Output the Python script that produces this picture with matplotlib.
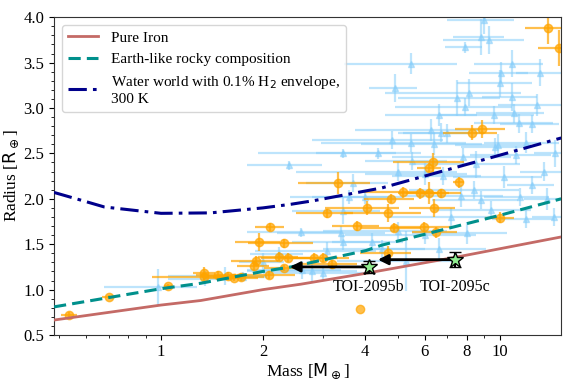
import numpy as np
import matplotlib
matplotlib.use("Agg")
import matplotlib.pyplot as plt
from matplotlib.ticker import FixedLocator, NullFormatter, MultipleLocator

plt.rcParams['font.family'] = ['Liberation Serif', 'DejaVu Serif']

# composition curves (mass [Mearth], radius [Rearth])
iron_m = [0.483, 1.0, 1.31, 2.0, 2.59, 4.03, 7.5, 15.2]
iron_r = [0.665, 0.83, 0.88, 1.0, 1.06, 1.18, 1.36, 1.58]

earth_m = [0.483, 1.0, 1.31, 2.0, 2.42, 4.03, 4.49, 10.05, 15.2]
earth_r = [0.81, 1.01, 1.07, 1.20, 1.25, 1.43, 1.49, 1.82, 2.0]

water_m = [0.483, 0.58, 0.68, 1.0, 1.40, 2.0, 2.42, 2.83, 4.49, 8.2, 15.2]
water_r = [2.07, 1.985, 1.91, 1.84, 1.845, 1.90, 1.94, 1.98, 2.12, 2.39, 2.67]

# known planets (light blue)
blue_m = [9.0, 8.8, 9.3, 7.9, 5.46, 4.9, 10.9, 13.2, 10.1, 10.0, 8.1, 7.5, 7.9, 10.9,
          12.9, 6.6, 9.6, 11.0, 11.4, 12.5, 6.25, 7.0, 6.7, 5.46, 9.9, 9.7, 14.6, 7.8,
          3.44, 4.36, 2.39, 3.68, 3.44, 3.6, 4.0, 10.3, 8.4, 8.8, 9.4, 11.5, 12.5, 7.7,
          6.0, 5.0, 6.8, 13.8, 14.5, 12.0, 7.2, 8.0, 6.0, 5.0, 3.4, 2.59, 3.44, 4.2,
          4.5, 5.3, 6.6, 3.1, 2.23, 2.0, 2.6, 2.8, 3.0, 0.98, 1.55, 1.35, 1.75, 4.8,
          5.5, 6.4, 8.5, 11.2, 12.0, 13.5]
blue_r = [3.97, 3.78, 3.75, 3.67, 3.49, 3.22, 3.49, 3.39, 3.39, 3.27, 3.17, 3.11, 3.01, 3.12,
          3.03, 2.92, 2.92, 2.94, 2.83, 2.82, 2.76, 2.72, 2.73, 2.61, 2.59, 2.57, 2.50, 2.46,
          2.50, 2.50, 2.37, 2.17, 1.87, 2.02, 2.02, 2.24, 2.10, 1.99, 1.88, 2.02, 2.15, 2.03,
          2.27, 2.30, 2.25, 2.00, 1.80, 1.78, 1.80, 1.62, 1.60, 1.65, 1.62, 1.63, 1.52, 1.52,
          1.45, 1.32, 1.45, 1.42, 1.39, 1.30, 1.22, 1.20, 1.18, 1.03, 1.15, 1.12, 1.14, 2.65,
          2.42, 2.60, 2.38, 2.48, 2.62, 2.30]
blue_dm = [2.0, 1.5, 2.5, 1.0, 2.0, 0.8, 2.5, 2.0, 2.0, 2.5, 3.5, 2.5, 3.0, 2.0,
           3.0, 2.0, 3.0, 2.5, 3.0, 2.5, 2.5, 2.0, 1.5, 2.5, 2.5, 2.0, 2.0, 3.0,
           1.5, 1.5, 0.6, 1.0, 1.0, 1.2, 1.2, 3.0, 3.0, 2.5, 3.0, 2.5, 2.0, 2.5,
           2.0, 2.5, 2.0, 2.0, 2.0, 2.5, 2.5, 2.5, 2.5, 2.0, 1.2, 0.8, 1.0, 1.0,
           1.5, 2.0, 2.5, 1.2, 0.4, 0.3, 0.8, 1.0, 1.0, 0.3, 0.5, 0.3, 0.3, 2.0,
           1.5, 2.5, 3.0, 3.0, 3.0, 2.0]
blue_dr = [0.15, 0.2, 0.15, 0.06, 0.12, 0.15, 0.15, 0.15, 0.12, 0.15, 0.15, 0.2, 0.1, 0.15,
           0.12, 0.12, 0.1, 0.1, 0.1, 0.1, 0.12, 0.1, 0.1, 0.1, 0.12, 0.1, 0.15, 0.1,
           0.05, 0.06, 0.05, 0.1, 0.15, 0.08, 0.08, 0.12, 0.1, 0.1, 0.1, 0.1, 0.1, 0.12,
           0.12, 0.1, 0.1, 0.12, 0.1, 0.1, 0.1, 0.12, 0.1, 0.1, 0.08, 0.05, 0.08, 0.1,
           0.1, 0.33, 0.12, 0.1, 0.08, 0.1, 0.1, 0.1, 0.08, 0.2, 0.1, 0.08, 0.05, 0.1,
           0.1, 0.12, 0.15, 0.1, 0.12, 0.1]

# M-dwarf planets (orange)
orange_m = [13.9, 15.0, 8.3, 8.9, 6.35, 6.2, 7.56, 3.33, 5.17, 5.8, 6.2, 6.7, 4.77, 3.1,
            4.05, 4.67, 6.4, 10.05, 3.8, 4.87, 5.97, 6.5, 2.1, 1.95, 2.31, 4.67, 3.0, 2.83,
            2.37, 2.23, 1.91, 1.88, 2.31, 3.2, 2.08, 1.72, 1.64, 1.58, 1.47, 1.34, 1.34,
            1.05, 0.70, 0.535, 3.86]
orange_r = [3.88, 3.66, 2.73, 2.77, 2.40, 2.34, 2.18, 2.17, 2.07, 2.06, 2.06, 2.06, 2.00, 1.84,
            1.90, 1.84, 1.90, 1.79, 1.70, 1.68, 1.69, 1.63, 1.69, 1.52, 1.51, 1.40, 1.35, 1.35,
            1.35, 1.36, 1.32, 1.26, 1.24, 1.28, 1.16, 1.14, 1.13, 1.15, 1.16, 1.14, 1.18,
            1.04, 0.92, 0.72, 0.79]
orange_dm = [2.0, 2.0, 1.5, 1.5, 1.5, 0.5, 0.3, 0.8, 1.2, 0.8, 0.9, 1.0, 0.8, 0.6,
             1.0, 1.2, 1.0, 1.0, 0.6, 1.0, 1.2, 1.0, 0.2, 0.3, 0.5, 0.8, 0.6, 0.5,
             0.4, 0.3, 0.3, 0.2, 0.3, 0.6, 0.4, 0.3, 0.3, 0.2, 0.2, 0.4, 0.1,
             0.03, 0.03, 0.03, 0.0]
orange_dr = [0.17, 0.2, 0.08, 0.1, 0.1, 0.05, 0.06, 0.12, 0.06, 0.06, 0.12, 0.05, 0.05, 0.05,
             0.08, 0.1, 0.1, 0.06, 0.06, 0.05, 0.06, 0.06, 0.04, 0.1, 0.05, 0.08, 0.05, 0.05,
             0.05, 0.05, 0.05, 0.05, 0.03, 0.05, 0.04, 0.04, 0.04, 0.04, 0.04, 0.04, 0.07,
             0.02, 0.02, 0.03, 0.0]

# TOI-2095 planets (mass upper limits)
toi_names = ['TOI-2095b', 'TOI-2095c']
toi_m = [4.1, 7.4]
toi_r = [1.25, 1.33]
toi_dr = [0.07, 0.08]
toi_arrow_to = [2.4, 4.37]

fig = plt.figure(figsize=(5.75, 3.82), dpi=100)
ax = fig.add_axes([0.094, 0.123, 0.882, 0.832])

ax.errorbar(blue_m, blue_r, xerr=blue_dm, yerr=blue_dr, fmt='^', color='lightskyblue',
            ms=5, elinewidth=1.6, alpha=0.55, zorder=1)
ax.errorbar(orange_m, orange_r, xerr=orange_dm, yerr=orange_dr, fmt='o', color='orange',
            ms=6, elinewidth=1.6, alpha=0.7, zorder=2)

ax.plot(iron_m, iron_r, color='#c46a66', lw=2, label='Pure Iron', zorder=3)
ax.plot(earth_m, earth_r, color='#00908c', lw=2.2, ls=(0, (4, 2)),
        label='Earth-like rocky composition', zorder=3)
ax.plot(water_m, water_r, color='darkblue', lw=2.2, ls=(0, (6, 2, 1.2, 2)),
        label='Water world with 0.1% H$_2$ envelope,\n300 K', zorder=3)

for i in range(2):
    ax.annotate('', xy=(toi_arrow_to[i], toi_r[i]), xytext=(toi_m[i], toi_r[i]),
                arrowprops=dict(arrowstyle='-|>', color='k', lw=2, mutation_scale=15,
                                shrinkA=0, shrinkB=0), zorder=4)
    ax.errorbar(toi_m[i], toi_r[i], yerr=toi_dr[i], fmt='*', ms=12, mfc='lightgreen',
                mec='k', ecolor='k', capsize=4, elinewidth=1.5, zorder=5)
    ax.text(toi_m[i], 1.03, toi_names[i], ha='center', va='center', fontsize=11.5)

ax.set_xscale('log')
ax.set_xlim(0.483, 15.2)
ax.set_ylim(0.5, 4.0)
ax.xaxis.set_major_locator(FixedLocator([1, 2, 4, 6, 8, 10]))
ax.set_xticklabels(['1', '2', '4', '6', '8', '10'])
ax.xaxis.set_minor_formatter(NullFormatter())
ax.yaxis.set_major_locator(MultipleLocator(0.5))
ax.yaxis.set_minor_locator(MultipleLocator(0.1))
ax.tick_params(labelsize=12)
ax.tick_params(axis='x', pad=3)
for s in ax.spines.values():
    s.set_color('#333333')

ax.set_xlabel(r'Mass [$\rm M_\oplus$]', fontsize=12.5, labelpad=1)
ax.set_ylabel(r'Radius [$\rm R_\oplus$]', fontsize=12.5, labelpad=2)

ax.legend(loc='upper left', fontsize=11)

fig.savefig('out.png', dpi=100)
